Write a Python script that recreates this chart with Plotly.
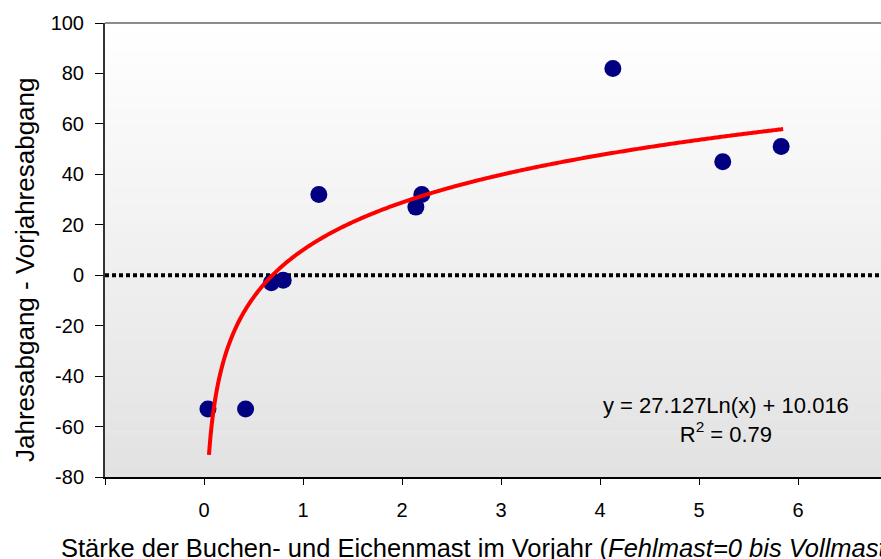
import numpy as np
import plotly.graph_objects as go

# Mast intensity in the previous year vs. change in annual harvest
mast_prev_year = [0.04, 0.42, 0.68, 0.80, 1.16, 2.14, 2.20, 4.13, 5.24, 5.83]
harvest_diff = [-53, -53, -3, -2, 32, 27, 32, 82, 45, 51]

# Logarithmic trend line reported by the fit
COEF_A = 27.127
COEF_B = 10.016
R_SQUARED = 0.79
TREND_X_MIN = 0.05
TREND_X_MAX = 5.85

y_ticks = [-80, -60, -40, -20, 0, 20, 40, 60, 80, 100]
y_tick_text = [str(v) for v in y_ticks]  # plain hyphen-minus labels
x_ticks = [-1, 0, 1, 2, 3, 4, 5, 6]
x_tick_text = ["", "0", "1", "2", "3", "4", "5", "6"]

W, H = 881, 559
M_L, M_R, M_T, M_B = 105, 0, 23, 82
PLOT_W = W - M_L - M_R
PLOT_H = H - M_T - M_B
PX_PER_UNIT = 99.0
X_MIN = -1.0
X_MAX = X_MIN + PLOT_W / PX_PER_UNIT

FONT = "Liberation Sans, Arial, sans-serif"

trend_x = np.linspace(TREND_X_MIN, TREND_X_MAX, 400)
trend_y = COEF_A * np.log(trend_x) + COEF_B

fig = go.Figure()

# zero reference line
fig.add_trace(go.Scatter(
    x=[X_MIN, X_MAX], y=[0, 0], mode="lines",
    line=dict(color="black", width=4, dash="4px,3px"),
    hoverinfo="skip", showlegend=False,
))

fig.add_trace(go.Scatter(
    x=mast_prev_year, y=harvest_diff, mode="markers",
    marker=dict(color="#000080", size=17, line=dict(width=0)),
    showlegend=False,
))

fig.add_trace(go.Scatter(
    x=trend_x, y=trend_y, mode="lines",
    line=dict(color="#ff0000", width=4, simplify=False),
    showlegend=False,
))

# vertical white-to-grey gradient behind the plot area
shapes = []
n_strips = 80
for i in range(n_strips):
    t = i / (n_strips - 1)
    g = int(round(255 - t * (255 - 226)))
    shapes.append(dict(
        type="rect", xref="paper", yref="paper",
        x0=0, x1=1, y0=1 - (i + 1) / n_strips, y1=1 - i / n_strips + 0.001,
        fillcolor=f"rgb({g},{g},{g})", line=dict(width=0), layer="below",
    ))
# plot area top border
shapes.append(dict(
    type="line", xref="paper", yref="paper", x0=0, x1=1, y0=1, y1=1,
    line=dict(color="#8c8c8c", width=2), layer="above",
))

fig.update_layout(
    width=W, height=H,
    margin=dict(l=M_L, r=M_R, t=M_T, b=M_B, pad=0),
    paper_bgcolor="white",
    plot_bgcolor="rgba(0,0,0,0)",
    font=dict(family=FONT, size=20, color="black"),
    shapes=shapes,
    annotations=[
        dict(
            text=f"y = {COEF_A}Ln(x) + {COEF_B}<br>R<sup>2</sup> = {R_SQUARED}",
            xref="x", yref="y", x=5.27, y=-57.5,
            showarrow=False, align="center",
            font=dict(size=22, family=FONT), xanchor="center", yanchor="middle",
        ),
        # x-axis title
        dict(
            text="Stärke der Buchen- und Eichenmast im Vorjahr (<i>Fehlmast=0 bis Vollmast</i>)",
            xref="paper", yref="paper",
            x=-(M_L - 59) / PLOT_W, y=-(548 - (H - M_B)) / PLOT_H,
            showarrow=False, xanchor="left", yanchor="middle",
            font=dict(size=25.5, family=FONT),
        ),
        # y-axis title
        dict(
            text="Jahresabgang - Vorjahresabgang",
            xref="paper", yref="paper",
            x=-(M_L - 25) / PLOT_W, y=((H - M_B) - 270) / PLOT_H,
            showarrow=False, textangle=-90, xanchor="center", yanchor="middle",
            font=dict(size=26, family=FONT),
        ),
    ],
    xaxis=dict(
        range=[X_MIN, X_MAX], tickvals=x_ticks, ticktext=x_tick_text,
        showgrid=False, zeroline=False,
        showline=True, linecolor="black", linewidth=2,
        ticks="outside", ticklen=6, tickwidth=1, tickcolor="black",
        ticklabelstandoff=8,
        tickfont=dict(size=20, family=FONT),
    ),
    yaxis=dict(
        range=[-80, 100], tickvals=y_ticks, ticktext=y_tick_text,
        showgrid=False, zeroline=False,
        showline=True, linecolor="#333333", linewidth=2,
        ticks="outside", ticklen=8, tickwidth=1, tickcolor="black",
        ticklabelstandoff=7,
        tickfont=dict(size=20, family=FONT),
    ),
)

fig.write_html("out.html")
